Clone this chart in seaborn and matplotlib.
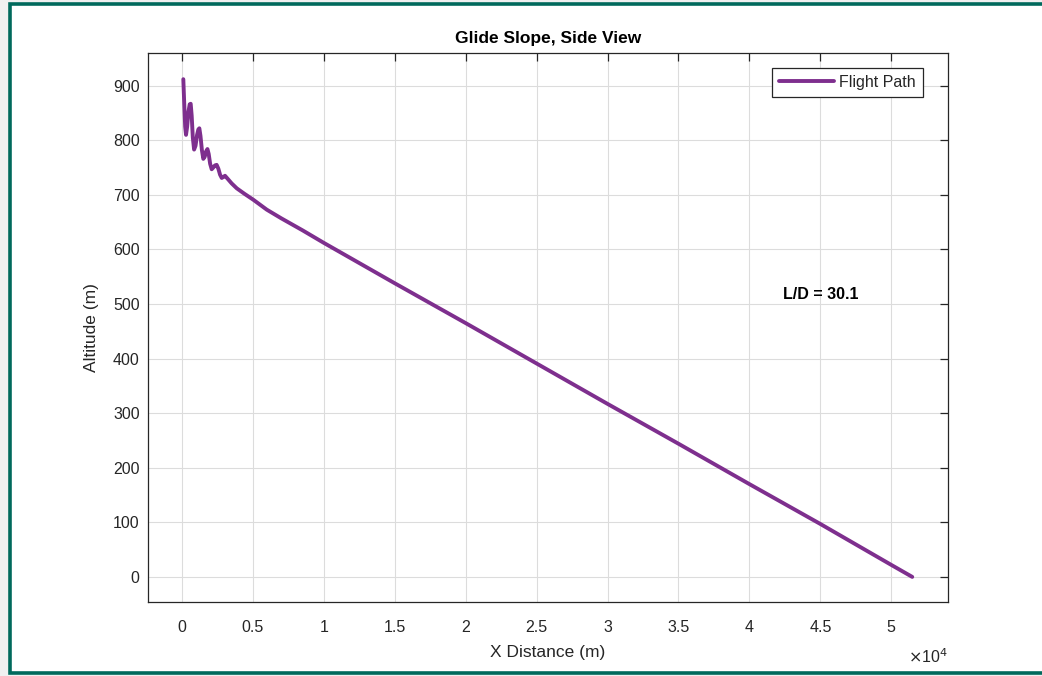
import matplotlib
matplotlib.use("Agg")
import matplotlib.pyplot as plt
from matplotlib.patches import Rectangle
from matplotlib.ticker import FuncFormatter, MultipleLocator
import seaborn as sns
import pandas as pd

# Flight path: horizontal distance (m) and altitude (m)
x_distance = [90, 150, 220, 280, 360, 450, 540, 610, 680, 760, 850, 950,
              1060, 1150, 1220, 1300, 1400, 1500, 1600, 1700, 1790, 1880,
              1980, 2090, 2200, 2320, 2440, 2560, 2680, 2800, 2920, 3030,
              3200, 3500, 3860, 4400, 5030, 5970, 7000, 8500, 10000, 15000,
              20000, 25000, 30000, 35000, 40000, 45000, 50000, 51480]
altitude = [912, 870, 825, 810, 825, 852, 866, 867, 845, 805, 783, 790,
            810, 820, 822, 808, 782, 766, 770, 780, 784, 775,
            757, 747, 750, 754, 755, 748, 737, 731, 733, 735,
            730, 721, 712, 702, 691, 673, 657, 635, 612, 538,
            465, 391, 317, 244, 170, 97, 22, 0]

glide_ratio = 30.1
series_label = "Flight Path"

df = pd.DataFrame({"x": x_distance, "alt": altitude})

sns.set_theme(style="whitegrid")
plt.rcParams["font.family"] = ["Liberation Sans", "DejaVu Sans"]

fig = plt.figure(figsize=(10.42, 6.76), dpi=100)
fig.patch.set_facecolor("#f0f0f0")
# white panel with a teal frame
fig.patches.append(Rectangle((9.5 / 1042, 3.5 / 676), 1.2, 670 / 676 - 1.5 / 676,
                             transform=fig.transFigure, facecolor="white",
                             edgecolor="#00695c", linewidth=2.6, zorder=-10))

ax = fig.add_axes([148 / 1042, 1 - 602 / 676, 800 / 1042, 549 / 676])
ax.set_facecolor("white")

sns.lineplot(data=df, x="x", y="alt", sort=False, ax=ax, color="#7e2f8e",
             linewidth=2.8, label=series_label)

ax.set_xlim(-2400, 54000)
ax.set_ylim(-46, 960)
ax.xaxis.set_major_locator(MultipleLocator(5000))
ax.yaxis.set_major_locator(MultipleLocator(100))
ax.xaxis.set_major_formatter(FuncFormatter(lambda v, p: f"{v / 1e4:g}"))

ax.grid(True, color="#dcdcdc", linewidth=0.8)
for s in ax.spines.values():
    s.set_color("#262626")
    s.set_linewidth(0.9)
    s.set_visible(True)
ax.tick_params(axis="both", which="both", direction="in", length=6, width=0.9,
               color="#262626", labelcolor="#262626", labelsize=11.5,
               top=True, right=True)
ax.tick_params(axis="x", pad=13)
ax.tick_params(axis="y", pad=6)

ax.set_title("Glide Slope, Side View", fontsize=12.5, fontweight="bold",
             color="black", pad=7)
ax.set_xlabel("X Distance (m)", fontsize=12.5, color="#262626", labelpad=7)
ax.set_ylabel("Altitude (m)", fontsize=12.5, color="#262626", labelpad=10)

ax.text(42400, 517, f"L/D = {glide_ratio}", fontsize=11.5, fontweight="bold",
        color="black", ha="left", va="center")
ax.text(1.0, -0.1, r"$\times$10$^4$", transform=ax.transAxes, fontsize=11.5,
        color="#262626", ha="right", va="center")

leg = ax.legend(loc="upper right", bbox_to_anchor=(0.969, 0.973), fontsize=11.5,
                frameon=True, fancybox=False, edgecolor="#262626",
                handlelength=3.4, borderpad=0.45, handletextpad=0.35,
                borderaxespad=0)
leg.get_frame().set_linewidth(0.9)
leg.get_frame().set_alpha(1)
for t in leg.get_texts():
    t.set_color("#262626")

fig.savefig("out.png", dpi=100, facecolor=fig.get_facecolor())
